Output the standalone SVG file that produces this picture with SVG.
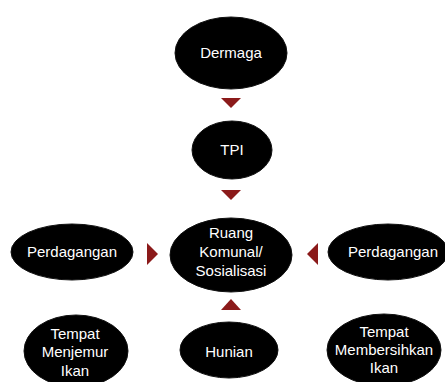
<svg xmlns="http://www.w3.org/2000/svg" width="445" height="382" viewBox="0 0 445 382">
<style>
.n{fill:#000;stroke:#111;stroke-width:1}
.t{fill:#fff;font-family:"Liberation Sans",Arial,sans-serif;font-size:15px;text-anchor:middle}
.a{fill:#8b1a1a}
</style>
<rect width="445" height="382" fill="#fff"/>
<g id="connectors">
<polygon class="a" points="221,98 241,98 231,108"/>
<polygon class="a" points="221,190 241,190 231,200"/>
<polygon class="a" points="147,243 147,265 158,254"/>
<polygon class="a" points="318,243 318,265 307,254"/>
<polygon class="a" points="221,310 241,310 231,299"/>
</g>
<g id="dermaga"><ellipse class="n" cx="231" cy="53" rx="56" ry="36"/><text class="t" x="231" y="58">Dermaga</text></g>
<g id="tpi"><ellipse class="n" cx="232" cy="150" rx="40" ry="29"/><text class="t" x="232" y="155">TPI</text></g>
<g id="ruang"><ellipse class="n" cx="231" cy="255" rx="61" ry="37"/>
<text class="t" x="231" y="238">Ruang</text><text class="t" x="231" y="257">Komunal/</text><text class="t" x="231" y="276">Sosialisasi</text></g>
<g id="perdagangan-kiri"><ellipse class="n" cx="72" cy="252" rx="61" ry="28"/><text class="t" x="72" y="257">Perdagangan</text></g>
<g id="perdagangan-kanan"><ellipse class="n" cx="388" cy="252" rx="60" ry="28"/><text class="t" x="393" y="257">Perdagangan</text></g>
<g id="menjemur"><ellipse class="n" cx="76" cy="351" rx="52" ry="36"/>
<text class="t" x="75" y="339">Tempat</text><text class="t" x="75" y="357">Menjemur</text><text class="t" x="75" y="376">Ikan</text></g>
<g id="hunian"><ellipse class="n" cx="229" cy="350" rx="49" ry="28"/><text class="t" x="229" y="357">Hunian</text></g>
<g id="membersihkan"><ellipse class="n" cx="384" cy="350" rx="57" ry="36"/>
<text class="t" x="384" y="337">Tempat</text><text class="t" x="384" y="355">Membersihkan</text><text class="t" x="384" y="373">Ikan</text></g>
</svg>
